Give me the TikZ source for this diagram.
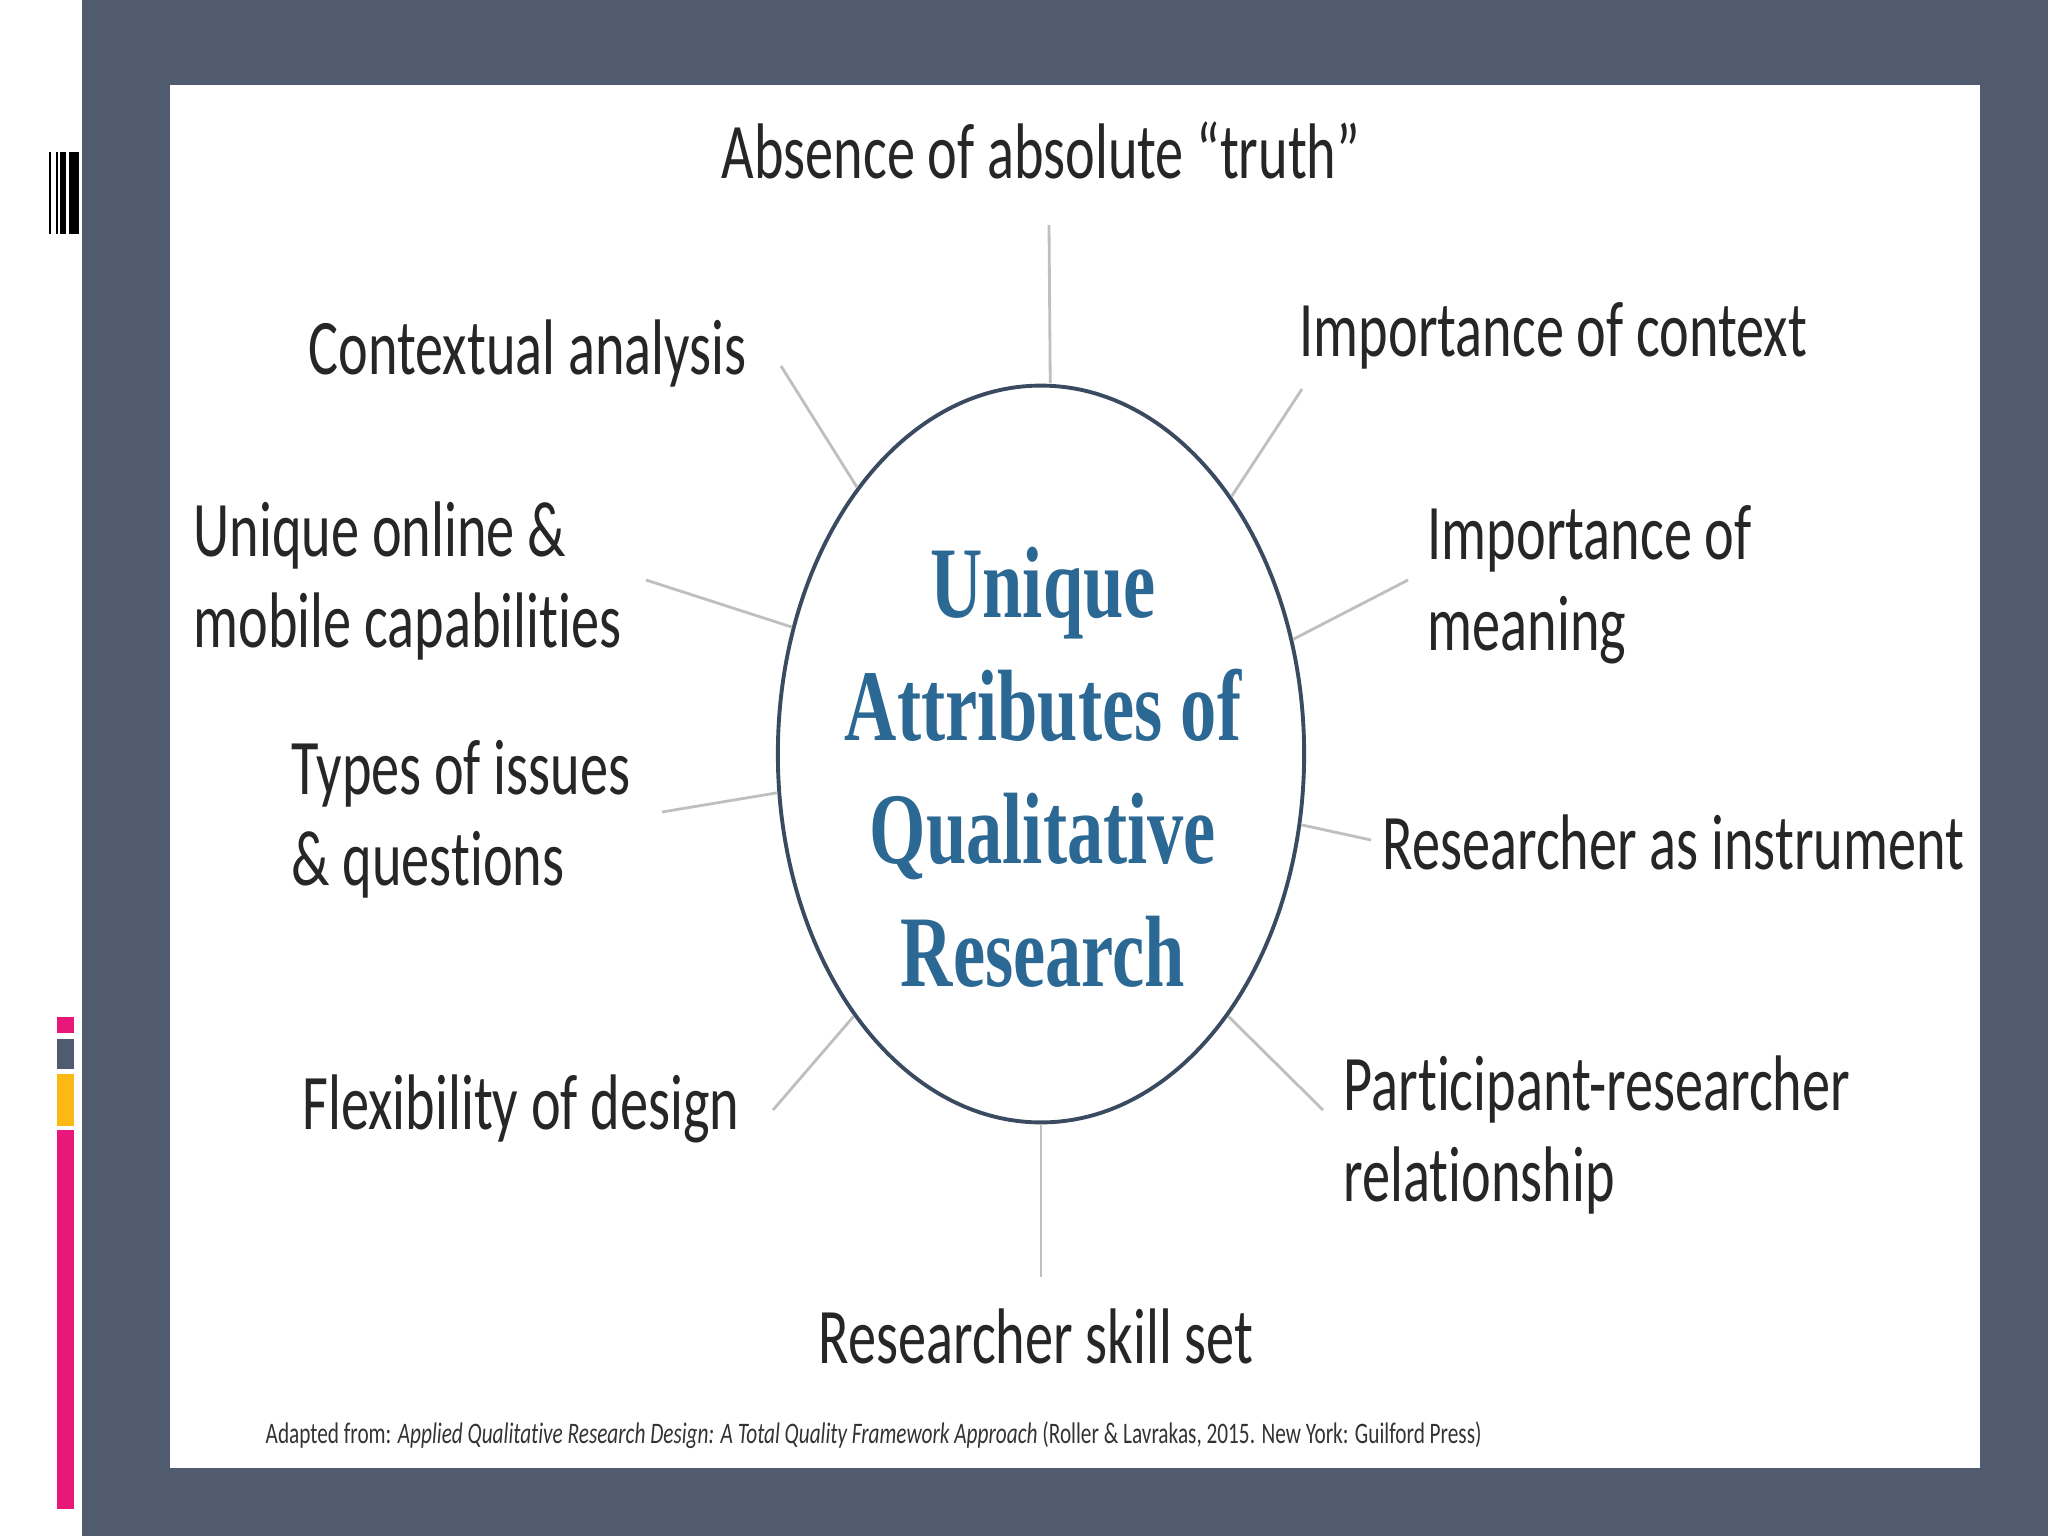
\documentclass[tikz,border=0pt]{standalone}
\usepackage{fontspec}
\setmainfont[Ligatures=NoCommon]{Carlito}
\newfontfamily\titlefont{Liberation Serif}
\usetikzlibrary{shapes.geometric}
\definecolor{slate}{RGB}{80,91,112}
\definecolor{rim}{RGB}{58,74,96}
\definecolor{titleblue}{RGB}{44,104,148}
\definecolor{barpink}{RGB}{233,23,122}
\definecolor{baryellow}{RGB}{253,185,19}
\tikzset{
  attr/.style={text=black!85, font=\fontsize{16}{18.5}\selectfont, yscale=1.4, inner sep=0pt},
  spoke/.style={draw=gray!50, line width=0.8pt},
}

\begin{document}
\begin{tikzpicture}[x=0.01cm, y=-0.01cm]
  \useasboundingbox (0,0) rectangle (2048,1536);
  % slide frame
  \fill[white] (0,0) rectangle (2048,1536);
  \fill[slate] (82,0) rectangle (2048,1536);
  \fill[white] (170,85) rectangle (1980,1468);
  % barcode mark
  \fill[black] (49,152) rectangle (51,234);
  \fill[black] (56,152) rectangle (58,234);
  \fill[black] (60,152) rectangle (66,234);
  \fill[black] (69,152) rectangle (79,234);
  % colour bars
  \fill[barpink] (57,1017) rectangle (74,1033);
  \fill[slate] (57,1039) rectangle (74,1069);
  \fill[baryellow] (57,1074) rectangle (74,1126);
  \fill[barpink] (57,1130) rectangle (74,1509);

  % centre
  \node[circle, draw=rim, line width=1.1pt, minimum size=5.26cm, inner sep=0pt, yscale=1.4] (qr) at (1041,754) {};
  \node[text=titleblue, font=\titlefont\bfseries\fontsize{20.6}{25}\selectfont, align=center, yscale=1.4, inner sep=0pt] (title) at (1043,767)
    {Unique\\Attributes of\\Qualitative\\Research};

  % attributes
  \node[attr] (absence) at (1041,150) {Absence of absolute “truth”};
  \node[attr, anchor=west] (context) at (308,353) {Contextual analysis};
  \node[attr, anchor=west] (impcontext) at (1299,336) {Importance of context};
  \node[attr, anchor=west, align=left] (online) at (193,581) {Unique online \&\\mobile capabilities};
  \node[attr, anchor=west, align=left] (meaning) at (1427,585) {Importance of\\meaning};
  \node[attr, anchor=west, align=left] (issues) at (291,819) {Types of issues\\\& questions};
  \node[attr, anchor=west] (instrument) at (1382,842) {Researcher as instrument};
  \node[attr, anchor=west] (flexibility) at (302,1109) {Flexibility of design};
  \node[attr, anchor=west, align=left] (relation) at (1343,1135) {Participant-researcher\\relationship};
  \node[attr] (skill) at (1036,1336) {Researcher skill set};

  % spokes
  \coordinate (s1) at (1049,225);
  \coordinate (s2) at (1302,389);
  \coordinate (s3) at (1408,580);
  \coordinate (s4) at (1371,840);
  \coordinate (s5) at (1323,1110);
  \coordinate (s6) at (1041,1277);
  \coordinate (s7) at (773,1110);
  \coordinate (s8) at (662,812);
  \coordinate (s9) at (646,580);
  \coordinate (s10) at (781,366);
  \foreach \a/\p in {88.3/s1, 44.6/s2, 18.8/s3, -11.9/s4, -45.4/s5, -90/s6, 225.7/s7, 186/s8, 160.9/s9, 134.5/s10}
    \draw[spoke] (qr.\a) -- (\p);

  \node[text=black!80, font=\fontsize{6.05}{6.5}\selectfont, yscale=1.4, anchor=west, inner sep=0pt] (source) at (265,1435)
    {Adapted from: \textit{Applied Qualitative Research Design: A Total Quality Framework Approach} (Roller \& Lavrakas, 2015. New York: Guilford Press)};
\end{tikzpicture}
\end{document}
